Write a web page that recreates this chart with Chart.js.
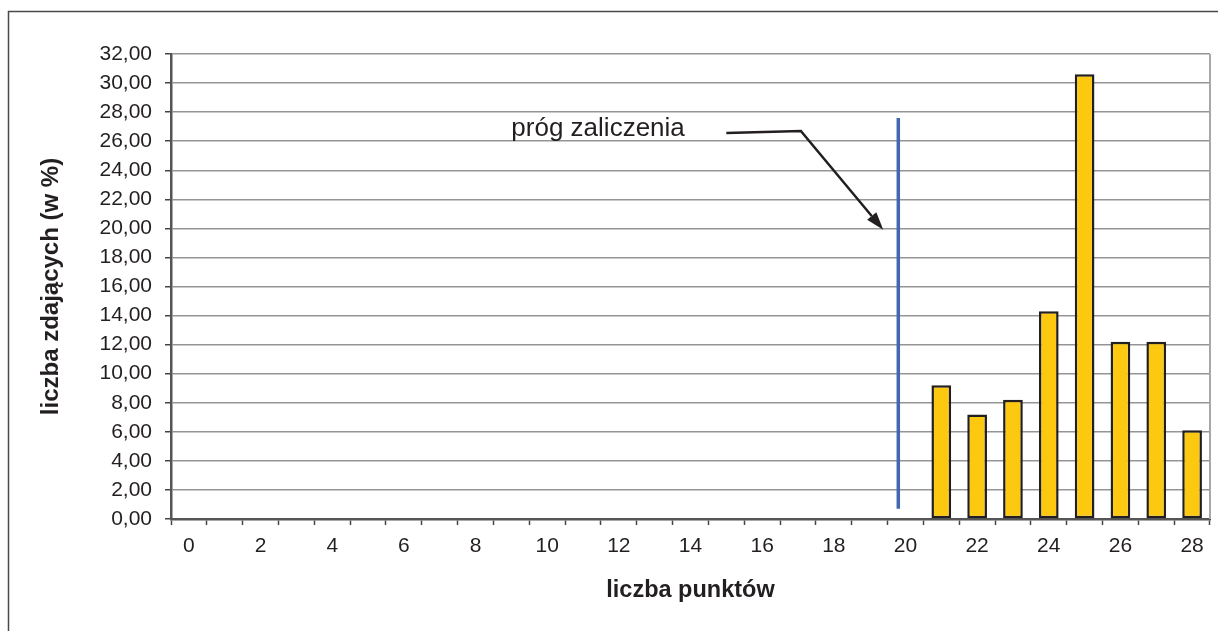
<!DOCTYPE html>
<html>
<head>
<meta charset="utf-8">
<title>liczba zdających</title>
<script src="https://cdn.jsdelivr.net/npm/chart.js@4/dist/chart.umd.min.js"></script>
<style>
  html, body { margin: 0; padding: 0; background: #fff; overflow: hidden; }
  #wrap { width: 1218px; height: 631px; }
</style>
</head>
<body>
<div id="wrap"><canvas id="js-chart-hist" width="1218" height="631"></canvas></div>
<script>
// Data
const pointLabels = ['0', '1', '2', '3', '4', '5', '6', '7', '8', '9', '10', '11', '12', '13', '14',
  '15', '16', '17', '18', '19', '20', '21', '22', '23', '24', '25', '26', '27', '28'];
const percentValues = [null, null, null, null, null, null, null, null, null, null, null, null, null, null, null,
  null, null, null, null, null, null, 9.2, 7.2, 8.2, 14.3, 30.6, 12.2, 12.2, 6.1];
const yMin = 0;
const yMax = 32;
const yStep = 2;

// threshold marker + its callout (in data units)
const thresholdX = 19.8;
const thresholdY = [0.7, 27.6];
const calloutText = 'próg zaliczenia';
const calloutTextPos = [9.0, 26.33];
const calloutPath = [[15.0, 26.57], [17.08, 26.7], [19.38, 19.9]];

const FONT = "'Liberation Sans', Arial, sans-serif";

// Frame, plot border, threshold line and callout arrow
const extrasPlugin = {
  id: 'extras',
  beforeDraw(chart) {
    const ctx = chart.ctx;
    ctx.save();
    ctx.fillStyle = '#fff';
    ctx.fillRect(0, 0, chart.width, chart.height);
    ctx.strokeStyle = '#4a4a4a';
    ctx.lineWidth = 1.5;
    ctx.beginPath();
    ctx.moveTo(8.5, chart.height + 5);
    ctx.lineTo(8.5, 11.5);
    ctx.lineTo(chart.width + 5, 11.5);
    ctx.stroke();
    ctx.restore();
  },
  afterDraw(chart) {
    const ctx = chart.ctx;
    const xs = chart.scales.x;
    const ys = chart.scales.y;
    const area = chart.chartArea;
    ctx.save();

    // right border of the plot
    ctx.strokeStyle = '#a8a8a8';
    ctx.lineWidth = 2;
    ctx.beginPath();
    ctx.moveTo(area.right, area.top);
    ctx.lineTo(area.right, area.bottom);
    ctx.stroke();

    // threshold line
    const tx = xs.getPixelForValue(thresholdX);
    ctx.strokeStyle = '#4467b1';
    ctx.lineWidth = 3.5;
    ctx.beginPath();
    ctx.moveTo(tx, ys.getPixelForValue(thresholdY[0]));
    ctx.lineTo(tx, ys.getPixelForValue(thresholdY[1]));
    ctx.stroke();

    // callout text
    ctx.fillStyle = '#231f20';
    ctx.font = '26px ' + FONT;
    ctx.textAlign = 'left';
    ctx.textBaseline = 'alphabetic';
    ctx.fillText(calloutText, xs.getPixelForValue(calloutTextPos[0]), ys.getPixelForValue(calloutTextPos[1]));

    // callout arrow
    const pts = calloutPath.map(p => [xs.getPixelForValue(p[0]), ys.getPixelForValue(p[1])]);
    const tip = pts[pts.length - 1];
    const prev = pts[pts.length - 2];
    const ang = Math.atan2(tip[1] - prev[1], tip[0] - prev[0]);
    const headLen = 18, headW = 6;
    const baseX = tip[0] - headLen * Math.cos(ang);
    const baseY = tip[1] - headLen * Math.sin(ang);

    ctx.strokeStyle = '#231f20';
    ctx.lineWidth = 2.5;
    ctx.beginPath();
    ctx.moveTo(pts[0][0], pts[0][1]);
    for (let i = 1; i < pts.length - 1; i++) ctx.lineTo(pts[i][0], pts[i][1]);
    ctx.lineTo(baseX, baseY);
    ctx.stroke();

    ctx.fillStyle = '#231f20';
    ctx.beginPath();
    ctx.moveTo(tip[0], tip[1]);
    ctx.lineTo(baseX + headW * Math.sin(ang), baseY - headW * Math.cos(ang));
    ctx.lineTo(baseX - headW * Math.sin(ang), baseY + headW * Math.cos(ang));
    ctx.closePath();
    ctx.fill();

    ctx.restore();
  }
};

Chart.defaults.font.family = FONT;
Chart.defaults.color = '#231f20';

let chartCon = document.getElementById('js-chart-hist');

let chartData = {
  labels: pointLabels,
  datasets: [{
    label: 'liczba zdających',
    data: percentValues,
    backgroundColor: '#fcc910',
    borderColor: '#231f20',
    borderWidth: 2.5,
    borderSkipped: false,
    categoryPercentage: 1,
    barPercentage: 0.55
  }]
};

let chartHist = new Chart(chartCon, {
  type: 'bar',
  data: chartData,
  plugins: [extrasPlugin],
  options: {
    responsive: false,
    animation: false,
    layout: {padding: {top: 54, right: 8, left: 0, bottom: 0}},
    plugins: {
      legend: {display: false},
      tooltip: {enabled: false}
    },
    scales: {
      x: {
        offset: true,
        afterFit: scale => { scale.height = 112; },
        grid: {
          offset: true,
          drawOnChartArea: false,
          drawTicks: true,
          tickLength: 6,
          tickColor: '#444',
          tickWidth: 1.5
        },
        border: {color: '#555', width: 2.5},
        ticks: {
          autoSkip: false,
          maxRotation: 0,
          padding: 9,
          font: {size: 21},
          callback: (val, i) => (i % 2 === 0 ? pointLabels[i] : '')
        },
        title: {
          display: true,
          text: 'liczba punktów',
          font: {size: 23.5, weight: 'bold'},
          padding: {top: 0, bottom: 26}
        }
      },
      y: {
        min: yMin,
        max: yMax,
        afterFit: scale => { scale.width = 171; },
        grid: {
          color: '#959595',
          lineWidth: 1.5,
          tickLength: 6,
          tickColor: '#444',
          tickWidth: 1.5
        },
        border: {color: '#555', width: 2.5},
        ticks: {
          stepSize: yStep,
          padding: 13,
          font: {size: 21},
          callback: v => v.toFixed(2).replace('.', ',')
        },
        title: {
          display: true,
          text: 'liczba zdających (w %)',
          font: {size: 24, weight: 'bold'},
          padding: {top: 37, bottom: 0}
        }
      }
    }
  }
});
</script>
</body>
</html>
